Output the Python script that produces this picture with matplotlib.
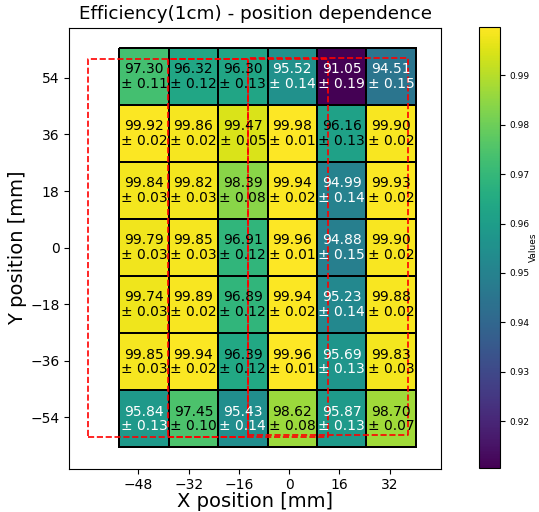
import numpy as np
import matplotlib
matplotlib.use("Agg")
import matplotlib.pyplot as plt

# efficiency per cell, rows from top (y=54) to bottom (y=-54)
EFF = [
    [0.9730, 0.9632, 0.9630, 0.9552, 0.9105, 0.9451],
    [0.9992, 0.9986, 0.9947, 0.9998, 0.9616, 0.9990],
    [0.9984, 0.9982, 0.9839, 0.9994, 0.9499, 0.9993],
    [0.9979, 0.9985, 0.9691, 0.9996, 0.9488, 0.9990],
    [0.9974, 0.9989, 0.9689, 0.9994, 0.9523, 0.9988],
    [0.9985, 0.9994, 0.9639, 0.9996, 0.9569, 0.9983],
    [0.9584, 0.9745, 0.9543, 0.9862, 0.9587, 0.9870],
]
ERR = [
    [0.11, 0.12, 0.13, 0.14, 0.19, 0.15],
    [0.02, 0.02, 0.05, 0.01, 0.13, 0.02],
    [0.03, 0.03, 0.08, 0.02, 0.14, 0.02],
    [0.03, 0.03, 0.12, 0.01, 0.15, 0.02],
    [0.03, 0.02, 0.12, 0.02, 0.14, 0.02],
    [0.03, 0.02, 0.12, 0.01, 0.13, 0.03],
    [0.13, 0.10, 0.14, 0.08, 0.13, 0.07],
]
X_EDGES = np.linspace(-54.1, 40.3, 7)
Y_EDGES = np.linspace(63.5, -63.6, 8)
X_TICKS = [-48, -32, -16, 0, 16, 32]
Y_TICKS = [-54, -36, -18, 0, 18, 36, 54]
# dashed sensor outlines: (x0, x1, y0, y1)
OUTLINES = [(-64.2, -13.0, -60.3, 60.1),
            (-38.7, 12.3, -60.3, 60.1),
            (-13.0, 37.8, -59.8, 60.3)]

eff = np.array(EFF)
err = np.array(ERR)

fig = plt.figure(figsize=(5.39, 5.12), dpi=100)
ax = fig.add_axes([69.3 / 539, 1 - 468.7 / 512, 372 / 539, 441 / 512])
cax = fig.add_axes([479 / 539, 1 - 468 / 512, 21 / 539, 441 / 512])

mesh = ax.pcolormesh(X_EDGES, Y_EDGES, eff, cmap="viridis",
                     vmin=eff.min(), vmax=eff.max(),
                     edgecolors="black", linewidth=1.1)
xc = (X_EDGES[:-1] + X_EDGES[1:]) / 2
yc = (Y_EDGES[:-1] + Y_EDGES[1:]) / 2
for i in range(eff.shape[0]):
    for j in range(eff.shape[1]):
        color = "white" if eff[i, j] < 0.96 else "black"
        ax.text(xc[j], yc[i], f"{eff[i, j]*100:.2f}\n± {err[i, j]:.2f}",
                ha="center", va="center", fontsize=10, color=color,
                linespacing=1.05)

for x0, x1, y0, y1 in OUTLINES:
    ax.plot([x0, x1, x1, x0, x0], [y0, y0, y1, y1, y0], "r--", lw=1.2)

ax.set_xlim(-70, 48.4)
ax.set_ylim(-70.4, 70)
ax.set_aspect("equal")
ax.set_xticks(X_TICKS)
ax.set_yticks(Y_TICKS)
ax.set_xlabel("X position [mm]", fontsize=14, labelpad=0)
ax.set_ylabel("Y position [mm]", fontsize=14, labelpad=2)
ax.set_title("Efficiency(1cm) - position dependence", fontsize=13.2)

cb = fig.colorbar(mesh, cax=cax)
cb.set_label("Values", fontsize=6.5, labelpad=-1)
cb.ax.tick_params(labelsize=6.5)

fig.savefig("out.png")
